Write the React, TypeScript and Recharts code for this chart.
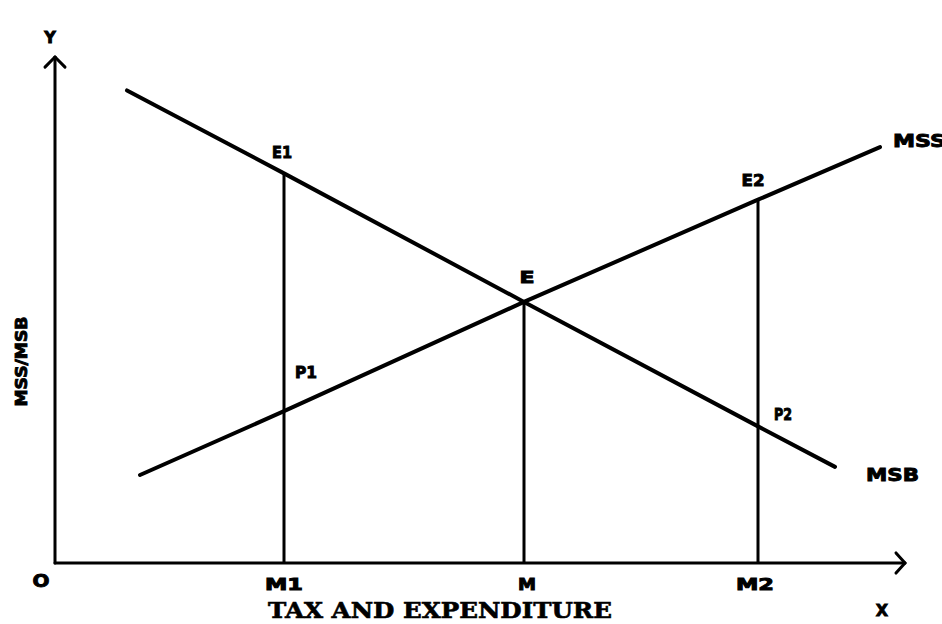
import { ComposedChart, Line, XAxis, YAxis, ReferenceLine, ReferenceDot } from "recharts";

// quantities on the x axis (tax and expenditure)
const quantityNames = ["M1", "M", "M2"];
const quantityValues = [22.9, 46.9, 70.3];

// marginal social benefit curve
const msbQ = [7.2, 22.9, 46.9, 70.3, 78];
const msbP = [46.7, 38.5, 25.8, 13.5, 9.5];

// marginal social sacrifice curve
const mssQ = [8.5, 22.9, 46.9, 70.3, 82.5];
const mssP = [8.7, 15.0, 25.8, 35.9, 41.1];

// top of each vertical drop line
const dropTops = [38.5, 25.8, 35.9];

// named points
const pointNames = ["E1", "E", "E2", "P1", "P2"];
const pointQ = [22.9, 46.9, 70.3, 22.9, 70.3];
const pointP = [38.5, 25.8, 35.9, 15.0, 13.5];

const X_MAX = 85;
const Y_MAX = 50;

const SANS = "'DejaVu Sans', sans-serif";
const SERIF = "'DejaVu Serif', serif";

type TagStyle = {
  dx: number;
  dy: number;
  size: number;
  width?: number;
  anchor?: "start" | "middle" | "end";
  serif?: boolean;
  rotate?: number;
};

const tagLayout: Record<string, TagStyle> = {
  E1: { dx: -2, dy: -20, size: 15, width: 20 },
  E: { dx: 3, dy: -24, size: 15, width: 15 },
  E2: { dx: -5, dy: -19, size: 15, width: 23 },
  P1: { dx: 22, dy: -38, size: 15, width: 22 },
  P2: { dx: 25, dy: -11, size: 15, width: 18 },
  MSS: { dx: 13, dy: -6, size: 17, width: 53, anchor: "start" },
  MSB: { dx: 31, dy: 8, size: 17, width: 53, anchor: "start" },
  M1: { dx: 0, dy: 22, size: 15, width: 38 },
  M: { dx: 3, dy: 22, size: 15, width: 18 },
  M2: { dx: -3, dy: 22, size: 15, width: 38 },
};

const toPoints = (qs: number[], ps: number[]) => qs.map((q, i) => ({ q, p: ps[i] }));

const msbData = toPoints(msbQ, msbP);
const mssData = toPoints(mssQ, mssP);

function tag(text: string, s: TagStyle) {
  return (props: any) => {
    const vb = props.viewBox || props;
    const cx = (vb.cx ?? vb.x ?? 0) + (vb.width ?? 0) / 2;
    const cy = (vb.cy ?? vb.y ?? 0) + (vb.height ?? 0) / 2;
    const x = cx + s.dx;
    const y = cy + s.dy;
    return (
      <text
        x={x}
        y={y}
        fill="#000"
        stroke="#000"
        strokeWidth={s.serif ? 0.6 : 0.9}
        fontFamily={s.serif ? SERIF : SANS}
        fontWeight="bold"
        fontSize={s.size}
        textAnchor={s.anchor || "middle"}
        dominantBaseline="central"
        textLength={s.width}
        lengthAdjust={s.width ? "spacingAndGlyphs" : undefined}
        transform={s.rotate ? `rotate(${s.rotate} ${x} ${y})` : undefined}
      >
        {text}
      </text>
    );
  };
}

const Mark = ({ q, p, text, s }: { q: number; p: number; text: string; s: TagStyle }) => (
  <ReferenceDot
    x={q}
    y={p}
    r={0}
    fill="none"
    stroke="none"
    ifOverflow="visible"
    label={tag(text, s)}
  />
);

const axisSegments = [
  [{ x: 0, y: 0 }, { x: X_MAX, y: 0 }],
  [{ x: 0, y: 0 }, { x: 0, y: Y_MAX }],
  [{ x: -1, y: Y_MAX - 1 }, { x: 0, y: Y_MAX }],
  [{ x: 1, y: Y_MAX - 1 }, { x: 0, y: Y_MAX }],
  [{ x: X_MAX - 0.9, y: 1 }, { x: X_MAX, y: 0 }],
  [{ x: X_MAX - 0.9, y: -1 }, { x: X_MAX, y: 0 }],
];

export default function App() {
  return (
    <div style={{ position: "absolute", left: 0, top: 0, background: "#fff" }}>
      <ComposedChart width={942} height={624} margin={{ top: 57, right: 37, bottom: 61, left: 55 }}>
        <XAxis type="number" dataKey="q" domain={[0, X_MAX]} height={0} tick={false} tickLine={false} axisLine={false} />
        <YAxis type="number" domain={[0, Y_MAX]} width={0} tick={false} tickLine={false} axisLine={false} />

        {/* axes with arrow heads */}
        {axisSegments.map((seg, i) => (
          <ReferenceLine
            key={"ax" + i}
            segment={seg}
            stroke="#000"
            strokeWidth={3}
            strokeLinecap="round"
            ifOverflow="visible"
          />
        ))}

        {quantityValues.map((q, i) => (
          <Line
            key={quantityNames[i]}
            data={[{ q, p: 0 }, { q, p: dropTops[i] }]}
            dataKey="p"
            stroke="#000"
            strokeWidth={3}
            dot={false}
            isAnimationActive={false}
          />
        ))}

        <Line data={msbData} dataKey="p" type="linear" stroke="#000" strokeWidth={4} strokeLinecap="round" dot={false} isAnimationActive={false} />
        <Line data={mssData} dataKey="p" type="linear" stroke="#000" strokeWidth={4} strokeLinecap="round" dot={false} isAnimationActive={false} />

        {pointNames.map((n, i) => (
          <Mark key={n} q={pointQ[i]} p={pointP[i]} text={n} s={tagLayout[n]} />
        ))}
        {quantityNames.map((n, i) => (
          <Mark key={"t" + n} q={quantityValues[i]} p={0} text={n} s={tagLayout[n]} />
        ))}
        <Mark q={mssQ[mssQ.length - 1]} p={mssP[mssP.length - 1]} text="MSS" s={tagLayout.MSS} />
        <Mark q={msbQ[msbQ.length - 1]} p={msbP[msbP.length - 1]} text="MSB" s={tagLayout.MSB} />

        <Mark q={0} p={0} text="O" s={{ dx: -14, dy: 18, size: 17, width: 17 }} />
        <Mark q={0} p={Y_MAX} text="Y" s={{ dx: -5, dy: -20, size: 16 }} />
        <Mark q={X_MAX} p={0} text="X" s={{ dx: -23, dy: 47, size: 16 }} />
        <Mark q={0} p={0} text="TAX AND EXPENDITURE" s={{ dx: 385, dy: 47, size: 22, width: 344, serif: true }} />
        <Mark q={0} p={20} text="MSS/MSB" s={{ dx: -33, dy: 1, size: 16, width: 90, rotate: -90 }} />
      </ComposedChart>
    </div>
  );
}
